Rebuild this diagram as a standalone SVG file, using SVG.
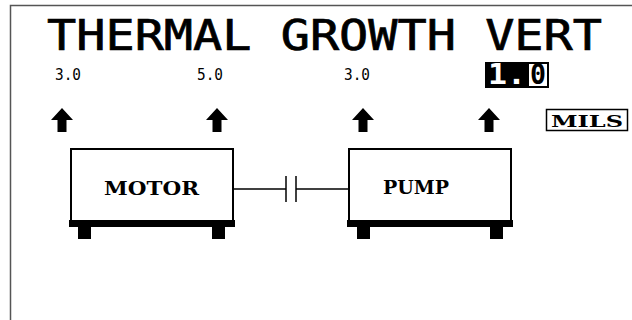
<svg xmlns="http://www.w3.org/2000/svg" width="632" height="320" viewBox="0 0 632 320">
<style>
.mono{font-family:"DejaVu Sans Mono","Liberation Mono",monospace;}
.serif{font-family:"DejaVu Serif","Liberation Serif",serif;font-weight:bold;}
.box{fill:#fff;stroke:#000;stroke-width:2;}
.blk{fill:#000;}
.ln{stroke:#000;stroke-width:1.5;fill:none;}
</style>
<defs>
<path id="arrow" d="M0,0 L11,12 L4.5,12 L4.5,24 L-4.5,24 L-4.5,12 L-11,12 Z" fill="#000"/>
</defs>
<rect width="632" height="320" fill="#fff"/>
<path d="M10.5,320 V5.5 H632" stroke="#555" stroke-width="1.5" fill="none"/>
<g id="title">
<text class="mono" x="47" y="50" font-size="42" stroke="#000" stroke-width="0.7" textLength="555" lengthAdjust="spacingAndGlyphs">THERMAL GROWTH VERT</text>
</g>
<g id="values">
<text class="mono" x="55" y="80" font-size="16" textLength="26" lengthAdjust="spacingAndGlyphs">3.0</text>
<text class="mono" x="197" y="80" font-size="16" textLength="26" lengthAdjust="spacingAndGlyphs">5.0</text>
<text class="mono" x="344" y="80" font-size="16" textLength="26" lengthAdjust="spacingAndGlyphs">3.0</text>
<rect x="485" y="62" width="64" height="26" class="blk"/>
<text class="mono" x="488" y="84" font-size="28" font-weight="bold" fill="#fff" textLength="38" lengthAdjust="spacingAndGlyphs">1.</text>
<rect x="529" y="64" width="18" height="22" fill="#fff"/>
<text class="mono" x="530" y="84" font-size="28" font-weight="bold" fill="#000" textLength="16" lengthAdjust="spacingAndGlyphs">0</text>
</g>
<g id="arrows">
<use href="#arrow" x="62" y="108"/>
<use href="#arrow" x="217" y="108"/>
<use href="#arrow" x="363" y="108"/>
<use href="#arrow" x="489" y="108"/>
</g>
<g id="mils">
<rect x="546.5" y="109.5" width="81" height="21" fill="#fff" stroke="#000" stroke-width="1.5"/>
<text class="serif" x="551" y="127" font-size="17" textLength="72" lengthAdjust="spacingAndGlyphs">MILS</text>
</g>
<g id="connectors">
<line class="ln" x1="233" y1="189" x2="286" y2="189"/>
<line class="ln" x1="286" y1="176" x2="286" y2="202"/>
<line class="ln" x1="296" y1="176" x2="296" y2="202"/>
<line class="ln" x1="296" y1="189" x2="349" y2="189"/>
</g>
<g id="motor">
<rect x="71" y="149" width="162" height="73" class="box"/>
<rect x="69" y="220" width="166" height="7" class="blk"/>
<rect x="78" y="227" width="13" height="12" class="blk"/>
<rect x="212" y="227" width="13" height="12" class="blk"/>
<text class="serif" x="104" y="195" font-size="19" textLength="95" lengthAdjust="spacingAndGlyphs">MOTOR</text>
</g>
<g id="pump">
<rect x="349" y="149" width="162" height="73" class="box"/>
<rect x="347" y="220" width="166" height="7" class="blk"/>
<rect x="357" y="227" width="13" height="12" class="blk"/>
<rect x="490" y="227" width="13" height="12" class="blk"/>
<text class="serif" x="383" y="194" font-size="19" textLength="66" lengthAdjust="spacingAndGlyphs">PUMP</text>
</g>
</svg>
